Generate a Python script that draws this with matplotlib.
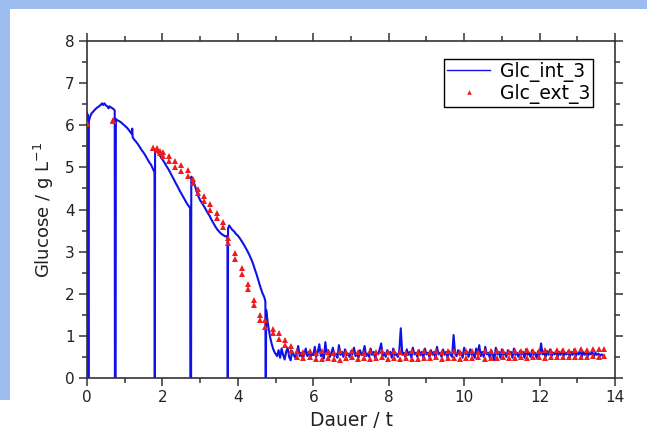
import matplotlib
matplotlib.use("Agg")
import matplotlib.pyplot as plt
from matplotlib.patches import Rectangle
from matplotlib.ticker import MultipleLocator

# ---------------- data ----------------
# Glc_int_3: fermentation phase (with sampling drop-outs to zero)
int_t = [0.00, 0.01, 0.02, 0.03, 0.045, 0.05, 0.08, 0.12, 0.17, 0.22, 0.27, 0.32, 0.37, 0.40,
         0.43, 0.46, 0.50, 0.54, 0.57, 0.60, 0.64, 0.68, 0.72, 0.735, 0.74, 0.76, 0.765,
         0.80, 0.85, 0.90, 0.95, 1.00, 1.05, 1.10, 1.15, 1.18, 1.20, 1.21, 1.25, 1.30, 1.35,
         1.40, 1.45, 1.50, 1.55, 1.60, 1.65, 1.70, 1.74, 1.77, 1.79, 1.795, 1.80, 1.805,
         1.84, 1.88, 1.92, 1.96, 2.00, 2.05, 2.10, 2.15, 2.20, 2.25, 2.30, 2.35, 2.40, 2.45,
         2.50, 2.55, 2.60, 2.65, 2.70, 2.735, 2.74, 2.76, 2.765,
         2.80, 2.85, 2.90, 2.95, 3.00, 3.05, 3.10, 3.15, 3.20, 3.25, 3.30, 3.35, 3.40, 3.45,
         3.50, 3.55, 3.60, 3.65, 3.70, 3.725, 3.73, 3.735, 3.74, 3.77,
         3.80, 3.85, 3.90, 3.95, 4.00, 4.05, 4.10, 4.15, 4.20, 4.25, 4.30, 4.35, 4.40, 4.45,
         4.50, 4.55, 4.60, 4.65, 4.70, 4.73, 4.735, 4.745, 4.75, 4.78, 4.82, 4.86, 4.90, 4.94,
         4.98, 5.02]
int_g = [6.30, 6.05, 6.25, 0.00, 0.00, 6.10, 6.20, 6.28, 6.33, 6.38, 6.42, 6.45, 6.49, 6.52,
         6.48, 6.52, 6.47, 6.45, 6.40, 6.45, 6.42, 6.40, 6.37, 6.35, 0.00, 0.00, 6.15,
         6.12, 6.10, 6.07, 6.03, 5.99, 5.95, 5.90, 5.84, 5.80, 5.92, 5.72, 5.66, 5.61, 5.55,
         5.48, 5.41, 5.35, 5.28, 5.20, 5.12, 5.06, 4.98, 4.92, 4.88, 0.00, 0.00, 5.42,
         5.40, 5.35, 5.30, 5.24, 5.19, 5.12, 5.04, 4.97, 4.89, 4.80, 4.72, 4.63, 4.55, 4.46,
         4.38, 4.30, 4.22, 4.14, 4.08, 4.03, 0.00, 0.00, 4.78,
         4.70, 4.60, 4.45, 4.32, 4.22, 4.15, 4.08, 4.00, 3.92, 3.85, 3.76, 3.68, 3.60, 3.53,
         3.48, 3.43, 3.40, 3.37, 3.36, 3.38, 0.00, 0.00, 3.55, 3.62,
         3.58, 3.52, 3.48, 3.42, 3.38, 3.32, 3.25, 3.18, 3.10, 3.02, 2.93, 2.83, 2.72, 2.58,
         2.45, 2.30, 2.15, 2.02, 1.92, 1.82, 0.00, 0.00, 1.62, 1.40, 1.15, 0.95, 0.80, 0.68,
         0.60, 0.55]

# Glc_int_3: noisy steady-state tail
tail_t = [5.04, 5.08, 5.12, 5.16, 5.20, 5.24, 5.28, 5.32, 5.36, 5.40, 5.44, 5.48,
          5.52, 5.56, 5.60, 5.64, 5.68, 5.72, 5.76, 5.80, 5.84, 5.88, 5.92, 5.96,
          6.00, 6.04, 6.08, 6.12, 6.16, 6.20, 6.24, 6.28, 6.32, 6.36, 6.40, 6.44,
          6.48, 6.52, 6.56, 6.60, 6.64, 6.68, 6.72, 6.76, 6.80, 6.84, 6.88, 6.92,
          6.96, 7.00, 7.04, 7.08, 7.12, 7.16, 7.20, 7.24, 7.28, 7.32, 7.36, 7.40,
          7.44, 7.48, 7.52, 7.56, 7.60, 7.64, 7.68, 7.72, 7.76, 7.80, 7.84, 7.88,
          7.92, 7.96, 8.00, 8.04, 8.08, 8.12, 8.16, 8.20, 8.24, 8.28, 8.32, 8.36,
          8.40, 8.44, 8.48, 8.52, 8.56, 8.60, 8.64, 8.68, 8.72, 8.76, 8.80, 8.84,
          8.88, 8.92, 8.96, 9.00, 9.04, 9.08, 9.12, 9.16, 9.20, 9.24, 9.28, 9.32,
          9.36, 9.40, 9.44, 9.48, 9.52, 9.56, 9.60, 9.64, 9.68, 9.72, 9.76, 9.80,
          9.84, 9.88, 9.92, 9.96, 10.00, 10.04, 10.08, 10.12, 10.16, 10.20, 10.24, 10.28,
          10.32, 10.36, 10.40, 10.44, 10.48, 10.52, 10.56, 10.60, 10.64, 10.68, 10.72, 10.76,
          10.80, 10.84, 10.88, 10.92, 10.96, 11.00, 11.04, 11.08, 11.12, 11.16, 11.20, 11.24,
          11.28, 11.32, 11.36, 11.40, 11.44, 11.48, 11.52, 11.56, 11.60, 11.64, 11.68, 11.72,
          11.76, 11.80, 11.84, 11.88, 11.92, 11.96, 12.00, 12.04, 12.08, 12.12, 12.16, 12.20,
          12.24, 12.28, 12.32, 12.36, 12.40, 12.44, 12.48, 12.52, 12.56, 12.60, 12.64, 12.68,
          12.72, 12.76, 12.80, 12.84, 12.88, 12.92, 12.96, 13.00, 13.04, 13.08, 13.12, 13.16,
          13.20, 13.24, 13.28, 13.32, 13.36, 13.40, 13.44, 13.48, 13.52, 13.56, 13.60, 13.64,
          13.68]
tail_g = [0.52, 0.66, 0.48, 0.70, 0.55, 0.44, 0.62, 0.72, 0.50, 0.42, 0.64, 0.55,
          0.48, 0.58, 0.76, 0.52, 0.60, 0.46, 0.56, 0.70, 0.52, 0.62, 0.48, 0.58,
          0.54, 0.74, 0.50, 0.62, 0.80, 0.52, 0.58, 0.46, 0.85, 0.56, 0.66, 0.50,
          0.60, 0.72, 0.52, 0.58, 0.48, 0.78, 0.55, 0.62, 0.50, 0.68, 0.54, 0.58,
          0.50, 0.64, 0.56, 0.72, 0.52, 0.58, 0.48, 0.66, 0.54, 0.60, 0.76, 0.52,
          0.58, 0.50, 0.70, 0.55, 0.62, 0.48, 0.60, 0.56, 0.68, 0.82, 0.52, 0.60,
          0.50, 0.66, 0.56, 0.62, 0.48, 0.70, 0.54, 0.58, 0.50, 0.64, 1.18, 0.55,
          0.60, 0.50, 0.68, 0.55, 0.62, 0.48, 0.72, 0.56, 0.60, 0.50, 0.66, 0.54,
          0.62, 0.48, 0.70, 0.56, 0.60, 0.50, 0.66, 0.55, 0.62, 0.46, 0.74, 0.56,
          0.60, 0.50, 0.68, 0.55, 0.62, 0.48, 0.64, 0.56, 0.50, 1.02, 0.58, 0.52,
          0.66, 0.55, 0.60, 0.48, 0.72, 0.56, 0.62, 0.50, 0.68, 0.55, 0.60, 0.48,
          0.70, 0.56, 0.78, 0.52, 0.62, 0.50, 0.74, 0.56, 0.60, 0.48, 0.66, 0.55,
          0.42, 0.72, 0.56, 0.62, 0.48, 0.68, 0.55, 0.60, 0.50, 0.66, 0.56, 0.62,
          0.48, 0.70, 0.55, 0.60, 0.50, 0.64, 0.56, 0.62, 0.48, 0.68, 0.55, 0.60,
          0.50, 0.66, 0.56, 0.60, 0.48, 0.64, 0.55, 0.82, 0.56, 0.60, 0.50, 0.64,
          0.55, 0.68, 0.52, 0.60, 0.56, 0.64, 0.50, 0.62, 0.55, 0.66, 0.52, 0.60,
          0.56, 0.64, 0.50, 0.62, 0.55, 0.68, 0.52, 0.60, 0.56, 0.66, 0.50, 0.62,
          0.55, 0.64, 0.52, 0.60, 0.56, 0.62, 0.50, 0.60, 0.55, 0.58, 0.52, 0.56,
          0.54]

# Glc_ext_3: offline samples, two replicates per time point
ext_t = [0.00, 0.69, 1.76, 1.86, 1.93, 2.01, 2.18, 2.34, 2.50, 2.67, 2.82, 2.94, 3.09, 3.27,
         3.44, 3.61, 3.74, 3.93, 4.11, 4.26, 4.43, 4.60, 4.73, 4.92, 5.09, 5.26, 5.42,
         5.58, 5.74, 5.90, 6.06, 6.22, 6.38, 6.54, 6.70, 6.86, 7.02, 7.18, 7.34, 7.50, 7.66,
         7.82, 7.98, 8.14, 8.30, 8.46, 8.62, 8.78, 8.94, 9.10, 9.26, 9.42, 9.58, 9.74, 9.90,
         10.06, 10.22, 10.38, 10.54, 10.70, 10.86, 11.02, 11.18, 11.34, 11.50, 11.66, 11.82,
         11.98, 12.14, 12.30, 12.46, 12.62, 12.78, 12.94, 13.10, 13.26, 13.42, 13.58, 13.70]
ext_1 = [6.06, 6.13, 5.47, 5.46, 5.40, 5.37, 5.26, 5.14, 5.05, 4.93, 4.72, 4.49, 4.31, 4.12,
         3.92, 3.71, 3.33, 2.96, 2.60, 2.23, 1.86, 1.50, 1.38, 1.17, 1.06, 0.91, 0.77,
         0.64, 0.62, 0.63, 0.60, 0.64, 0.62, 0.60, 0.63, 0.61, 0.64, 0.62, 0.60, 0.63, 0.62,
         0.64, 0.61, 0.63, 0.62, 0.60, 0.64, 0.62, 0.63, 0.61, 0.64, 0.62, 0.63, 0.64, 0.62,
         0.63, 0.65, 0.62, 0.64, 0.63, 0.65, 0.64, 0.62, 0.65, 0.64, 0.66, 0.64, 0.65, 0.66,
         0.64, 0.66, 0.67, 0.65, 0.67, 0.68, 0.66, 0.68, 0.69, 0.68]
ext_2 = [6.03, 6.09, 5.47, 5.42, 5.35, 5.27, 5.14, 5.02, 4.92, 4.80, 4.63, 4.39, 4.20, 4.00,
         3.80, 3.58, 3.21, 2.83, 2.48, 2.11, 1.74, 1.38, 1.22, 1.06, 0.93, 0.79, 0.65,
         0.50, 0.47, 0.49, 0.46, 0.45, 0.48, 0.44, 0.43, 0.47, 0.49, 0.46, 0.48, 0.45, 0.47,
         0.49, 0.46, 0.47, 0.45, 0.48, 0.44, 0.46, 0.48, 0.47, 0.49, 0.46, 0.48, 0.47, 0.45,
         0.48, 0.47, 0.49, 0.46, 0.48, 0.47, 0.49, 0.48, 0.47, 0.49, 0.48, 0.50, 0.49, 0.48,
         0.50, 0.49, 0.51, 0.50, 0.49, 0.51, 0.50, 0.52, 0.51, 0.52]

x_ticks = [0, 2, 4, 6, 8, 10, 12, 14]
y_ticks = [0, 1, 2, 3, 4, 5, 6, 7, 8]

# ---------------- figure ----------------
plt.rcParams['font.family'] = ['DejaVu Sans']
W, H = 647, 430
fig = plt.figure(figsize=(W / 100, H / 100), dpi=100, facecolor='white')

# decorative blue border of the source slide
fig.patches.append(Rectangle((0, 1 - 9 / H), 1, 9 / H, transform=fig.transFigure,
                             facecolor='#9dbdf0', edgecolor='none', zorder=0))
fig.patches.append(Rectangle((0, 30 / H), 10 / W, 1 - 30 / H, transform=fig.transFigure,
                             facecolor='#9dbdf0', edgecolor='none', zorder=0))

ax = fig.add_axes([87 / W, 1 - 378 / H, (615 - 87) / W, (378 - 41) / H])
ax.set_facecolor('white')

ax.plot(int_t + tail_t, int_g + tail_g, color='#1010e8', lw=1.5, label='Glc_int_3', zorder=2)
ax.plot(ext_t + ext_t, ext_1 + ext_2, linestyle='none', marker='^', markersize=4.2,
        color='#ee1c1c', markeredgewidth=0, label='Glc_ext_3', zorder=3)

ax.set_xlim(0, 14)
ax.set_ylim(0, 8)
ax.set_xticks(x_ticks)
ax.set_yticks(y_ticks)
ax.xaxis.set_minor_locator(MultipleLocator(1))
ax.yaxis.set_minor_locator(MultipleLocator(0.5))
ax.tick_params(which='both', direction='out', top=True, right=True,
               labeltop=False, labelright=False, color='#333333', width=1.1)
ax.tick_params(which='major', length=6, labelsize=11, pad=3, labelcolor='#222222')
ax.tick_params(which='minor', length=3.5)
for s in ax.spines.values():
    s.set_linewidth(1.2)
    s.set_color('#333333')

ax.set_xlabel('Dauer / t', fontsize=13.5, color='#222222', labelpad=4)
ax.set_ylabel('Glucose / g L$^{\\mathregular{-1}}$', fontsize=13, color='#222222', labelpad=6)

leg = ax.legend(loc='upper right', bbox_to_anchor=(0.958, 0.946), fontsize=13.5,
                frameon=True, fancybox=False, edgecolor='black', framealpha=1,
                handlelength=2.3, handletextpad=0.5, borderpad=0.15, labelspacing=0.1,
                borderaxespad=0, numpoints=1, markerscale=0.8)
leg.get_frame().set_linewidth(1.0)
leg.get_lines()[0].set_linewidth(1.0)

fig.savefig('out.png', dpi=100, facecolor='white')
